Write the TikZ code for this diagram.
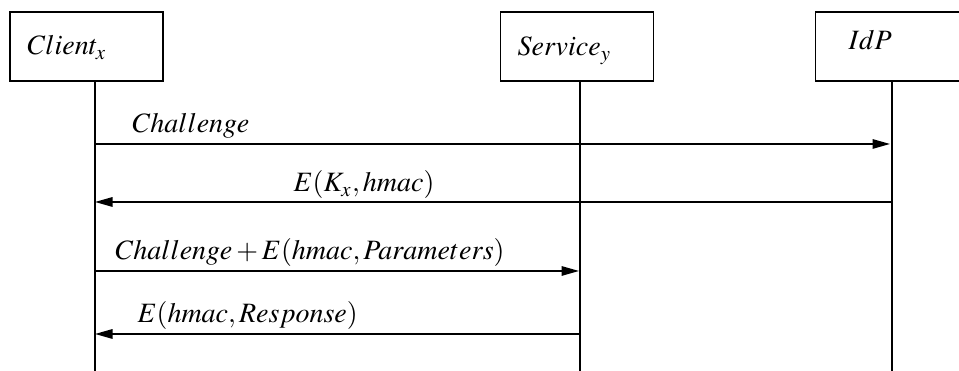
\documentclass[tikz,border=0pt]{standalone}
\usepackage{mathptmx}
\usetikzlibrary{arrows.meta}
\begin{document}
\begin{tikzpicture}[x=0.4pt,y=-0.4pt,
  actor/.style={draw, line width=0.6pt, minimum width=61.2pt, minimum height=27.6pt, inner sep=0pt},
  lifeline/.style={line width=0.6pt},
  msg/.style={line width=0.6pt, -{Triangle[length=7pt,width=3.8pt]}},
  txt/.style={anchor=base west, inner sep=0pt, font=\fontsize{11.2}{13}\selectfont}]
\useasboundingbox (0,0) rectangle (959,371);
\clip (0,0) rectangle (959,371);

% participants
\node[actor] (client)  at (86.5,46.5) {};
\node[actor] (service) at (577,46.5) {};
\node[actor] (idp)     at (892,46.5) {};
\node[txt] (lclient)  at (27,55)  {$Client_x$};
\node[txt] (lservice) at (517,56) {$Service_y$};
\node[txt] (lidp)     at (848,50) {$IdP$};

% lifelines
\coordinate (cend) at (95,372);
\coordinate (send) at (580,372);
\coordinate (iend) at (892,372);
\draw[lifeline] (client.south -| cend) -- (cend);
\draw[lifeline] (service.south -| send) -- (send);
\draw[lifeline] (idp.south -| iend) -- (iend);

% message end points on the lifelines
\coordinate (c1) at (95,144);  \coordinate (i1) at (890,144);
\coordinate (i2) at (892,202); \coordinate (c2) at (95,202);
\coordinate (c3) at (95,271);  \coordinate (s3) at (579,271);
\coordinate (s4) at (580,334); \coordinate (c4) at (95,334);

% messages
\draw[msg] (c1) -- (i1);
\node[txt] (m1) at (132,133) {$Challenge$};
\draw[msg] (i2) -- (c2);
\node[txt] (m2) at (293,192) {$E(K_x,hmac)$};
\draw[msg] (c3) -- (s3);
\node[txt] (m3) at (115,260) {$Challenge+E(hmac,Parameters)$};
\draw[msg] (s4) -- (c4);
\node[txt] (m4) at (137,323) {$E(hmac,Response)$};
\end{tikzpicture}
\end{document}
